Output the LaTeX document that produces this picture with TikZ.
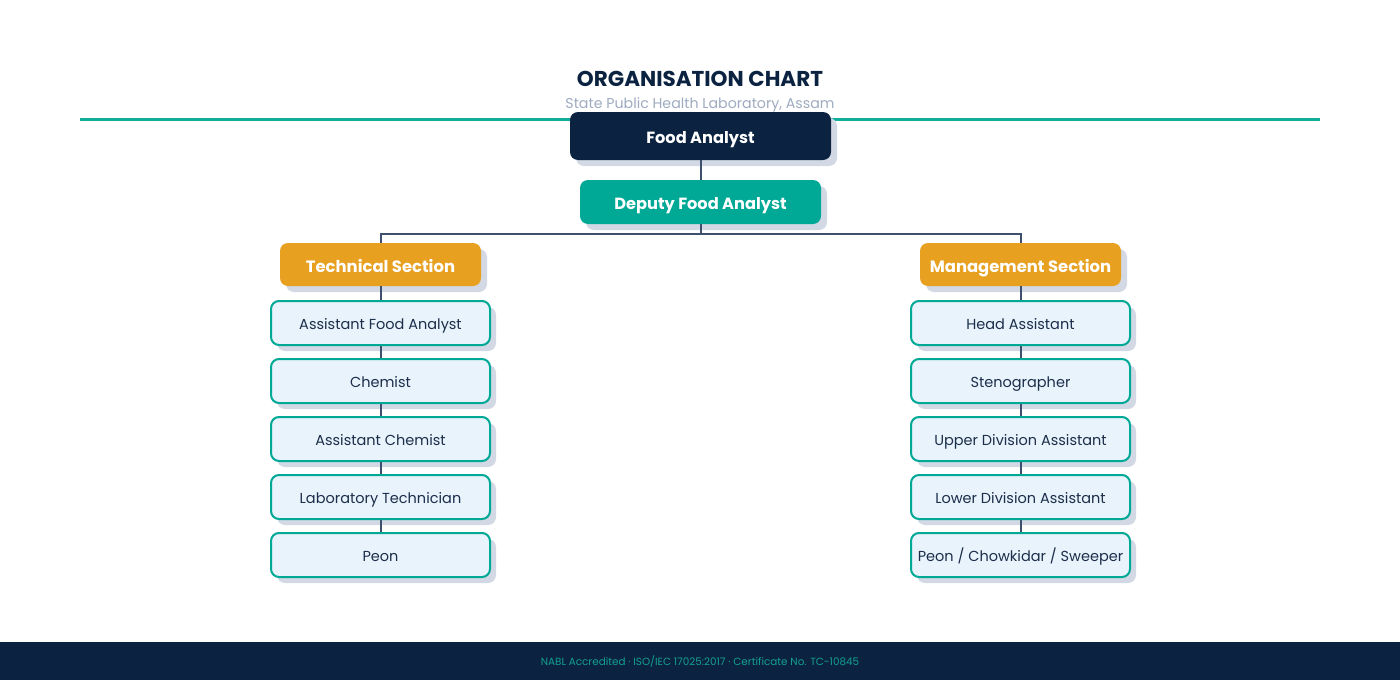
\documentclass[tikz,border=0pt]{standalone}
\usepackage{fontspec}
\setmainfont{Poppins}
\usetikzlibrary{shadows}
\definecolor{navy}{HTML}{0B2341}
\definecolor{teal}{HTML}{00A896}
\definecolor{orng}{HTML}{E8A020}
\definecolor{leaf}{HTML}{E8F3FC}
\definecolor{shad}{HTML}{D2D9E4}
\definecolor{conn}{HTML}{3D506E}
\definecolor{subt}{HTML}{9EABC0}
\definecolor{tline}{HTML}{12AE9C}
\definecolor{ftxt}{HTML}{14A090}
\definecolor{ltxt}{HTML}{1C2E4A}
\tikzset{
  shbox/.style={rounded corners=8pt, draw=none, inner sep=0pt,
    drop shadow={shadow xshift=6pt, shadow yshift=-6pt, fill=shad, opacity=1}},
  topbox/.style={shbox, fill=navy, text=white, minimum width=261pt, minimum height=48pt,
    text height=15pt, text depth=0pt, font=\fontsize{16.2}{19}\selectfont\bfseries},
  depbox/.style={shbox, fill=teal, text=white, minimum width=241pt, minimum height=44pt,
    text height=15pt, text depth=0pt, font=\fontsize{16.2}{19}\selectfont\bfseries},
  secbox/.style={shbox, fill=orng, text=white, minimum width=201pt, minimum height=43pt,
    text height=15pt, text depth=0pt, font=\fontsize{16.4}{19}\selectfont\bfseries},
  leafbox/.style={shbox, fill=leaf, draw=teal, line width=2pt, text=ltxt,
    minimum width=219pt, minimum height=44pt, text height=13pt, text depth=0pt,
    font=\fontsize{14.5}{17}\selectfont},
  conline/.style={draw=conn, line width=2pt}
}
\begin{document}
\begin{tikzpicture}[x=1pt,y=-1pt]
\useasboundingbox (0,0) rectangle (1400,680);
\fill[white] (0,0) rectangle (1400,680);
\fill[navy] (0,642) rectangle (1400,680);
\node[text=ftxt, font=\fontsize{10.4}{12}\selectfont, text height=9pt, text depth=0pt] (foot) at (700,661) {NABL Accredited · ISO/IEC 17025:2017 · Certificate No. TC-10845};
\node[text=navy, font=\fontsize{21.5}{25}\selectfont\bfseries, text height=19pt, text depth=0pt] (title) at (700,76.5) {ORGANISATION CHART};
\node[text=subt, font=\fontsize{14.2}{17}\selectfont, text height=13pt, text depth=0pt] (sub) at (700,102) {State Public Health Laboratory, Assam};
\coordinate (ll) at (80,119);
\coordinate (lr) at (1320,119);
\draw[tline, line width=3pt] (ll) -- (lr);

\node[topbox] (fa) at (700.5,136) {Food Analyst};
\node[depbox] (dfa) at (700.5,202) {Deputy Food Analyst};
\node[secbox] (tech) at (380.5,264.5) {Technical Section};
\node[secbox] (mgmt) at (1020.5,264.5) {Management Section};

\node[leafbox] (t1) at (380.5,323) {Assistant Food Analyst};
\node[leafbox] (t2) at (380.5,381) {Chemist};
\node[leafbox] (t3) at (380.5,439) {Assistant Chemist};
\node[leafbox] (t4) at (380.5,497) {Laboratory Technician};
\node[leafbox] (t5) at (380.5,555) {Peon};

\node[leafbox] (m1) at (1020.5,323) {Head Assistant};
\node[leafbox] (m2) at (1020.5,381) {Stenographer};
\node[leafbox] (m3) at (1020.5,439) {Upper Division Assistant};
\node[leafbox] (m4) at (1020.5,497) {Lower Division Assistant};
\node[leafbox] (m5) at (1020.5,555) {Peon / Chowkidar / Sweeper};

\coordinate (bus) at (700.5,234);
\draw[conline] (fa.south) -- (dfa.north);
\draw[conline] (dfa.south) -- (bus) -| (tech.north);
\draw[conline] (bus) -| (mgmt.north);
\draw[conline] (tech.south) -- (t1.north);
\draw[conline] (t1.south) -- (t2.north);
\draw[conline] (t2.south) -- (t3.north);
\draw[conline] (t3.south) -- (t4.north);
\draw[conline] (t4.south) -- (t5.north);
\draw[conline] (mgmt.south) -- (m1.north);
\draw[conline] (m1.south) -- (m2.north);
\draw[conline] (m2.south) -- (m3.north);
\draw[conline] (m3.south) -- (m4.north);
\draw[conline] (m4.south) -- (m5.north);
\end{tikzpicture}
\end{document}
